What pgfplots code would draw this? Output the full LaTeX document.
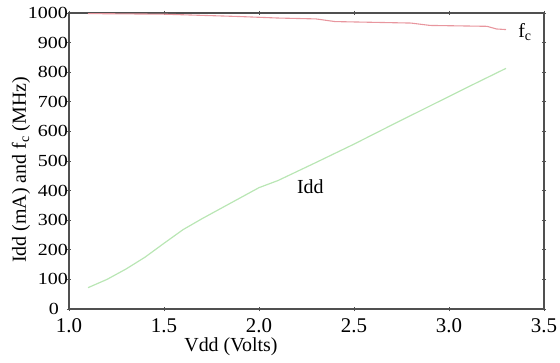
\documentclass[border=0pt]{standalone}
\usepackage{fontspec}
\setmainfont{Liberation Serif}
\newfontfamily\yfont{Liberation Serif}[FakeStretch=1.18]
\usepackage{pgfplots}
\pgfplotsset{compat=1.18}
\definecolor{fcred}{RGB}{232,150,158}
\definecolor{iddgreen}{RGB}{185,230,180}
\definecolor{axgray}{RGB}{80,80,80}
\newcommand{\zerolabel}{\lower2bp\hbox{0}\rule{9bp}{0pt}}
\begin{document}
\begin{tikzpicture}
\begin{axis}[
  name=ax,
  scale only axis,
  width=475bp, height=296bp,
  xmin=1.0, xmax=3.5, ymin=0, ymax=1000,
  xtick={1.0,1.5,2.0,2.5,3.0,3.5},
  xticklabels={1.0,1.5,2.0,2.5,3.0,3.5},
  ytick={0,100,200,300,400,500,600,700,800,900,1000},
  yticklabels={\zerolabel,100,200,300,400,500,600,700,800,900,1000},
  axis line style={axgray, line width=1.3bp},
  tick style={axgray, line width=0.8bp},
  major tick length=4bp,
  tick align=center,
  xticklabel style={font=\rmfamily\fontsize{21}{23}\selectfont, yshift=-6bp, inner sep=1bp},
  yticklabel style={font=\yfont\fontsize{17}{19}\selectfont, xshift=2bp, inner sep=1bp},
  xlabel={Vdd (Volts)},
  xlabel style={font=\rmfamily\fontsize{20}{22}\selectfont, at={(axis description cs:0.341,-0.128)}, anchor=center},
  ylabel={Idd (mA) and f\textsubscript{c} (MHz)},
  ylabel style={font=\rmfamily\fontsize{20}{22}\selectfont, at={(axis description cs:-0.101,0.47)}, anchor=center},
  clip=false,
]
\addplot[fcred, line width=1.1bp] coordinates {
(1.1,998) (1.5,996) (1.9,988) (2.1,983) (2.3,980) (2.4,971) (2.8,966) (2.9,958) (3.2,955) (3.25,946) (3.3,944)
};
\addplot[iddgreen, line width=1.2bp] coordinates {
(1.1,72) (1.2,100) (1.3,135) (1.4,175) (1.5,222) (1.6,268) (1.7,305) (1.8,340) (1.9,375) (2.0,410) (2.1,434) (2.3,495) (2.5,557) (2.7,622) (2.9,686) (3.1,750) (3.3,813)
};
\node[font=\rmfamily\fontsize{20}{22}\selectfont] at (axis cs:2.27,413) {Idd};
\node[font=\rmfamily\fontsize{20}{22}\selectfont] at (axis cs:3.40,935) {f\textsubscript{c}};
\end{axis}
\pgfresetboundingbox
\useasboundingbox ([shift={(-69bp,-54bp)}]ax.south west) rectangle ([shift={(16bp,13bp)}]ax.north east);
\end{tikzpicture}
\end{document}
